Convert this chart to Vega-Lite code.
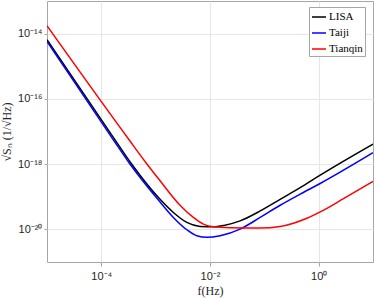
{
  "$schema": "https://vega.github.io/schema/vega-lite/v6.json",
  "width": 326,
  "height": 261,
  "autosize": {"type": "none"},
  "padding": {"left": 47, "top": 1, "right": 1, "bottom": 37},
  "background": "white",
  "config": {
    "view": {"stroke": "#a6a6a6", "strokeWidth": 1},
    "font": "Liberation Sans"
  },
  "data": {
    "values": [
      {"f": 1e-5, "S": 6.53e-15, "detector": "LISA"},
      {"f": 1.786e-4, "S": 5.56e-18, "detector": "LISA"},
      {"f": 3.50e-4, "S": 1.086e-18, "detector": "LISA"},
      {"f": 1.205e-3, "S": 8.34e-20, "detector": "LISA"},
      {"f": 2.118e-3, "S": 3.29e-20, "detector": "LISA"},
      {"f": 3.74e-3, "S": 1.633e-20, "detector": "LISA"},
      {"f": 6.58e-3, "S": 1.233e-20, "detector": "LISA"},
      {"f": 1.156e-2, "S": 1.199e-20, "detector": "LISA"},
      {"f": 1.8e-2, "S": 1.32e-20, "detector": "LISA"},
      {"f": 3.58e-2, "S": 1.82e-20, "detector": "LISA"},
      {"f": 8.38e-2, "S": 3.67e-20, "detector": "LISA"},
      {"f": 0.1954, "S": 8.34e-20, "detector": "LISA"},
      {"f": 0.456, "S": 1.89e-19, "detector": "LISA"},
      {"f": 1.067, "S": 4.60e-19, "detector": "LISA"},
      {"f": 10, "S": 4.11e-18, "detector": "LISA"},
      {"f": 1e-5, "S": 5.79e-15, "detector": "Taiji"},
      {"f": 1.663e-4, "S": 5.56e-18, "detector": "Taiji"},
      {"f": 3.26e-4, "S": 1.086e-18, "detector": "Taiji"},
      {"f": 1.205e-3, "S": 6.90e-20, "detector": "Taiji"},
      {"f": 2.118e-3, "S": 2.32e-20, "detector": "Taiji"},
      {"f": 3.74e-3, "S": 9.73e-21, "detector": "Taiji"},
      {"f": 5.71e-3, "S": 6.38e-21, "detector": "Taiji"},
      {"f": 8.73e-3, "S": 5.71e-21, "detector": "Taiji"},
      {"f": 1.535e-2, "S": 6.38e-21, "detector": "Taiji"},
      {"f": 3.58e-2, "S": 1.02e-20, "detector": "Taiji"},
      {"f": 8.38e-2, "S": 2.32e-20, "detector": "Taiji"},
      {"f": 0.1954, "S": 5.48e-20, "detector": "Taiji"},
      {"f": 0.456, "S": 1.20e-19, "detector": "Taiji"},
      {"f": 1.067, "S": 2.55e-19, "detector": "Taiji"},
      {"f": 10, "S": 2.24e-18, "detector": "Taiji"},
      {"f": 1e-5, "S": 1.738e-14, "detector": "Tianqin"},
      {"f": 3.24e-4, "S": 5.56e-18, "detector": "Tianqin"},
      {"f": 6.68e-4, "S": 1.086e-18, "detector": "Tianqin"},
      {"f": 1.205e-3, "S": 3.09e-19, "detector": "Tianqin"},
      {"f": 2.81e-3, "S": 5.50e-20, "detector": "Tianqin"},
      {"f": 4.94e-3, "S": 2.32e-20, "detector": "Tianqin"},
      {"f": 7.55e-3, "S": 1.449e-20, "detector": "Tianqin"},
      {"f": 1.156e-2, "S": 1.199e-20, "detector": "Tianqin"},
      {"f": 2.34e-2, "S": 1.13e-20, "detector": "Tianqin"},
      {"f": 8.38e-2, "S": 1.10e-20, "detector": "Tianqin"},
      {"f": 0.1954, "S": 1.23e-20, "detector": "Tianqin"},
      {"f": 0.3436, "S": 1.55e-20, "detector": "Tianqin"},
      {"f": 0.607, "S": 2.19e-20, "detector": "Tianqin"},
      {"f": 1.067, "S": 3.43e-20, "detector": "Tianqin"},
      {"f": 2.864, "S": 8.71e-20, "detector": "Tianqin"},
      {"f": 10, "S": 2.94e-19, "detector": "Tianqin"}
    ]
  },
  "mark": {"type": "line", "strokeWidth": 1.5, "interpolate": "monotone", "clip": true},
  "encoding": {
    "x": {
      "field": "f",
      "type": "quantitative",
      "scale": {"type": "log", "domain": [1e-5, 10], "nice": false},
      "axis": {
        "values": [1e-4, 1e-2, 1],
        "labelExpr": "datum.value < 0.001 ? '10⁻⁴' : datum.value < 0.1 ? '10⁻²' : '10⁰'",
        "title": "f(Hz)",
        "titleFont": "Liberation Serif",
        "titleFontWeight": "normal",
        "titleFontSize": 12,
        "titleColor": "#262626",
        "titlePadding": 4,
        "labelFontSize": 11,
        "labelColor": "#262626",
        "labelPadding": 4,
        "domain": false,
        "tickColor": "#a6a6a6",
        "tickSize": 4,
        "grid": true,
        "gridColor": "#e6e6e6"
      }
    },
    "y": {
      "field": "S",
      "type": "quantitative",
      "scale": {"type": "log", "domain": [1e-21, 1e-13], "nice": false},
      "axis": {
        "values": [1e-20, 1e-18, 1e-16, 1e-14],
        "labelExpr": "datum.value < 1e-19 ? '10⁻²⁰' : datum.value < 1e-17 ? '10⁻¹⁸' : datum.value < 1e-15 ? '10⁻¹⁶' : '10⁻¹⁴'",
        "title": "√Sₙ (1/√Hz)",
        "titleFont": "Liberation Serif",
        "titleFontWeight": "normal",
        "titleFontSize": 12,
        "titleColor": "#262626",
        "titlePadding": 4,
        "labelFontSize": 11,
        "labelColor": "#262626",
        "labelPadding": 2,
        "domain": false,
        "tickColor": "#a6a6a6",
        "tickSize": 3,
        "grid": true,
        "gridColor": "#e6e6e6"
      }
    },
    "color": {
      "field": "detector",
      "type": "nominal",
      "scale": {"domain": ["LISA", "Taiji", "Tianqin"], "range": ["#000000", "#0000ff", "#ff0000"]},
      "legend": {
        "title": null,
        "orient": "none",
        "legendX": 262,
        "legendY": 6,
        "symbolType": "stroke",
        "symbolSize": 196,
        "symbolStrokeWidth": 1.5,
        "labelFont": "Liberation Serif",
        "labelFontSize": 11,
        "labelColor": "#000000",
        "labelOffset": 2,
        "rowPadding": 3,
        "padding": 2,
        "strokeColor": "#a6a6a6",
        "fillColor": "white"
      }
    }
  }
}
